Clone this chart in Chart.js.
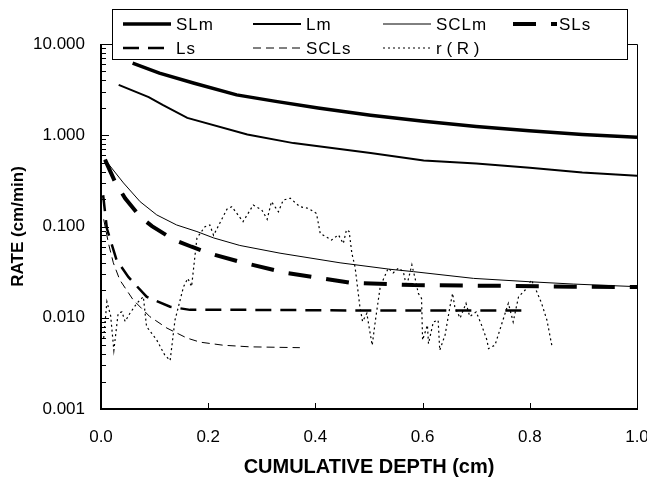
<!DOCTYPE html>
<html>
<head>
<meta charset="utf-8">
<script src="https://cdn.jsdelivr.net/npm/chart.js@4/dist/chart.umd.min.js"></script>
<style>
  html, body { margin: 0; padding: 0; background: #fff; }
  #wrap { width: 647px; height: 481px; }
</style>
</head>
<body>
<div id="wrap"><canvas id="chart"></canvas></div>
<script>
// values: depth (cm) and rate (cm/min)
const depthSLm = [0.059, 0.109, 0.174, 0.253, 0.326, 0.405, 0.503, 0.602, 0.700, 0.799, 0.898, 1.0];
const rateSLm  = [6.17, 4.79, 3.71, 2.77, 2.35, 1.99, 1.66, 1.42, 1.25, 1.12, 1.02, 0.95];

const depthLm = [0.033, 0.089, 0.115, 0.161, 0.273, 0.359, 0.503, 0.602, 0.700, 0.800, 0.898, 1.0];
const rateLm  = [3.57, 2.62, 2.15, 1.55, 1.02, 0.82, 0.64, 0.53, 0.49, 0.44, 0.39, 0.36];

const depthSCLm = [0.0075, 0.042, 0.073, 0.104, 0.141, 0.179, 0.21, 0.259, 0.334, 0.446, 0.539, 0.583, 0.695, 0.80, 0.881, 1.0];
const rateSCLm  = [0.54, 0.30, 0.187, 0.134, 0.104, 0.088, 0.075, 0.062, 0.051, 0.040, 0.034, 0.032, 0.027, 0.0248, 0.0234, 0.0219];

const depthSLs = [0.0075, 0.026, 0.045, 0.073, 0.095, 0.135, 0.169, 0.206, 0.259, 0.346, 0.465, 0.583, 0.732, 0.881, 1.0];
const rateSLs  = [0.54, 0.31, 0.204, 0.128, 0.101, 0.072, 0.060, 0.050, 0.041, 0.031, 0.0242, 0.0228, 0.0224, 0.0219, 0.0217];

const depthLs = [0.004, 0.011, 0.029, 0.051, 0.085, 0.129, 0.166, 0.278, 0.5, 0.8];
const rateLs  = [0.22, 0.095, 0.043, 0.028, 0.017, 0.0132, 0.0122, 0.0122, 0.012, 0.012];

const depthSCLs = [0.005, 0.014, 0.023, 0.035, 0.06, 0.091, 0.123, 0.16, 0.185, 0.228, 0.278, 0.371];
const rateSCLs  = [0.12, 0.065, 0.040, 0.026, 0.0157, 0.0103, 0.0077, 0.006, 0.0054, 0.0050, 0.0048, 0.0047];

const depthR = [0.005, 0.011, 0.018, 0.024, 0.032, 0.039, 0.045, 0.054, 0.067, 0.079, 0.085, 0.104, 0.119, 0.129,
  0.138, 0.154, 0.162, 0.169, 0.179, 0.194, 0.203, 0.21, 0.235, 0.244, 0.265, 0.284, 0.30, 0.31, 0.318, 0.331,
  0.34, 0.353, 0.371, 0.387, 0.402, 0.409, 0.43, 0.443, 0.452, 0.458, 0.463, 0.468, 0.474, 0.483, 0.488, 0.496,
  0.500, 0.506, 0.512, 0.521, 0.536, 0.545, 0.555, 0.564, 0.570, 0.58, 0.586, 0.592, 0.598, 0.60, 0.609, 0.611,
  0.62, 0.629, 0.632, 0.642, 0.651, 0.656, 0.66, 0.67, 0.681, 0.688, 0.70, 0.71, 0.72, 0.723, 0.735, 0.748,
  0.76, 0.769, 0.779, 0.791, 0.803, 0.813, 0.822, 0.832, 0.841];
const rateR = [0.006, 0.015, 0.0105, 0.0044, 0.0112, 0.0116, 0.0091, 0.0112, 0.0144, 0.017, 0.008, 0.0057, 0.0039, 0.0034,
  0.0094, 0.0219, 0.027, 0.022, 0.075, 0.0995, 0.104, 0.08, 0.155, 0.165, 0.113, 0.172, 0.152, 0.12, 0.187, 0.145,
  0.195, 0.204, 0.165, 0.158, 0.139, 0.084, 0.071, 0.081, 0.065, 0.092, 0.088, 0.051, 0.036, 0.0132, 0.0091, 0.0112,
  0.008, 0.005, 0.0094, 0.022, 0.035, 0.031, 0.035, 0.032, 0.022, 0.038, 0.027, 0.0185, 0.0163, 0.0057, 0.0083, 0.0052,
  0.009, 0.0094, 0.0044, 0.0065, 0.0132, 0.0185, 0.0132, 0.0099, 0.0144, 0.0103, 0.0116, 0.0083, 0.0057, 0.0046, 0.005, 0.0087,
  0.0144, 0.009, 0.017, 0.020, 0.026, 0.0193, 0.0144, 0.0094, 0.005];

const xTicks = [0, 0.2, 0.4, 0.6, 0.8, 1.0];
const yTicks = [0.001, 0.01, 0.1, 1, 10];

const FONT = '"Liberation Sans", Arial, sans-serif';

function pts(xs, ys) {
  return xs.map((x, i) => ({ x: x, y: ys[i] }));
}

const series = [
  { label: 'SLm',     data: pts(depthSLm, rateSLm),   borderWidth: 3.5, borderDash: [] },
  { label: 'Lm',      data: pts(depthLm, rateLm),     borderWidth: 2,   borderDash: [] },
  { label: 'SCLm',    data: pts(depthSCLm, rateSCLm), borderWidth: 1,   borderDash: [] },
  { label: 'SLs',     data: pts(depthSLs, rateSLs),   borderWidth: 4,   borderDash: [23, 15] },
  { label: 'Ls',      data: pts(depthLs, rateLs),     borderWidth: 2.5, borderDash: [16, 9] },
  { label: 'SCLs',    data: pts(depthSCLs, rateSCLs), borderWidth: 1,   borderDash: [8, 5] },
  { label: 'r ( R )', data: pts(depthR, rateR),       borderWidth: 1.2, borderDash: [2, 3] }
];

// frame, inward tick marks and the boxed legend
const framePlugin = {
  id: 'frame',
  afterDraw(chart) {
    const { ctx, chartArea: a, scales } = chart;
    const xs = scales.x, ys = scales.y;
    ctx.save();
    ctx.strokeStyle = '#000';
    ctx.setLineDash([]);

    ctx.lineWidth = 1;
    ctx.beginPath();
    ctx.moveTo(a.left, a.top + 0.5); ctx.lineTo(a.right + 0.5, a.top + 0.5);
    ctx.lineTo(a.right + 0.5, a.bottom);
    ctx.stroke();

    ctx.lineWidth = 2;
    ctx.beginPath();
    ctx.moveTo(a.left, a.top); ctx.lineTo(a.left, a.bottom); ctx.lineTo(a.right + 1, a.bottom);
    ctx.stroke();

    ctx.lineWidth = 1;
    ctx.beginPath();
    yTicks.forEach((d, i) => {
      const py = Math.round(ys.getPixelForValue(d)) + 0.5;
      ctx.moveTo(a.left, py); ctx.lineTo(a.left + 8, py);
      if (i < yTicks.length - 1) {
        for (let k = 2; k <= 9; k++) {
          const m = Math.round(ys.getPixelForValue(d * k)) + 0.5;
          ctx.moveTo(a.left, m); ctx.lineTo(a.left + 5, m);
        }
      }
    });
    xTicks.forEach(v => {
      const px = Math.round(xs.getPixelForValue(v)) + 0.5;
      ctx.moveTo(px, a.bottom); ctx.lineTo(px, a.bottom - 6);
    });
    ctx.stroke();

    // legend
    const box = { l: 112, t: 9, r: 627, b: 59 };
    ctx.fillStyle = '#fff';
    ctx.fillRect(box.l, box.t, box.r - box.l, box.b - box.t);
    ctx.lineWidth = 1;
    ctx.strokeRect(box.l + 0.5, box.t + 0.5, box.r - box.l, box.b - box.t);

    const cols = [123, 253, 383, 513];
    const sampleLen = [48, 48, 48, 44];
    const textAt = [176, 306, 436, 559];
    const rows = [24, 48];
    ctx.font = '17px ' + FONT;
    ctx.textBaseline = 'middle';
    ctx.fillStyle = '#000';
    chart.data.datasets.forEach((ds, i) => {
      const c = i % 4, y = rows[Math.floor(i / 4)];
      const x = cols[c];
      ctx.lineWidth = ds.borderWidth;
      ctx.setLineDash(ds.borderDash);
      ctx.beginPath();
      ctx.moveTo(x, y); ctx.lineTo(x + sampleLen[c], y);
      ctx.stroke();
      ctx.setLineDash([]);
      ctx.letterSpacing = ds.label.indexOf(' ') >= 0 ? '0px' : '1px';
      ctx.fillText(ds.label, textAt[c], y + 1);
    });
    ctx.restore();
  }
};

new Chart(document.getElementById('chart'), {
  type: 'line',
  data: {
    datasets: series.map(s => ({
      label: s.label,
      data: s.data,
      borderColor: '#000',
      backgroundColor: '#000',
      borderWidth: s.borderWidth,
      borderDash: s.borderDash,
      pointRadius: 0,
      tension: 0,
      fill: false
    }))
  },
  options: {
    responsive: true,
    maintainAspectRatio: false,
    animation: false,
    layout: { padding: { top: 44, right: 10, left: 0, bottom: 0 } },
    plugins: { legend: { display: false }, tooltip: { enabled: false } },
    scales: {
      x: {
        type: 'linear',
        min: 0,
        max: 1,
        afterBuildTicks: s => { s.ticks = xTicks.map(v => ({ value: v })); },
        afterFit: s => { s.height = 72; s.paddingLeft = 0; s.paddingRight = 0; },
        grid: { display: false, drawTicks: false },
        border: { display: false },
        ticks: {
          padding: 18,
          color: '#000',
          font: { family: FONT, size: 17 },
          maxRotation: 0,
          callback: v => Number(v).toFixed(1)
        },
        title: {
          display: true,
          text: 'CUMULATIVE DEPTH (cm)',
          color: '#000',
          font: { family: FONT, size: 20, weight: 'bold' },
          padding: { top: 4, bottom: 2 }
        }
      },
      y: {
        type: 'logarithmic',
        min: 0.001,
        max: 10,
        afterBuildTicks: s => { s.ticks = yTicks.map(v => ({ value: v })); },
        afterFit: s => { s.width = 101; },
        grid: { display: false, drawTicks: false },
        border: { display: false },
        ticks: {
          padding: 16,
          color: '#000',
          font: { family: FONT, size: 17 },
          autoSkip: false,
          callback: v => Number(v).toFixed(3)
        },
        title: {
          display: true,
          text: 'RATE (cm/min)',
          color: '#000',
          font: { family: FONT, size: 17, weight: 'bold' },
          padding: { top: 8, bottom: 4 }
        }
      }
    }
  },
  plugins: [framePlugin]
});
</script>
</body>
</html>
